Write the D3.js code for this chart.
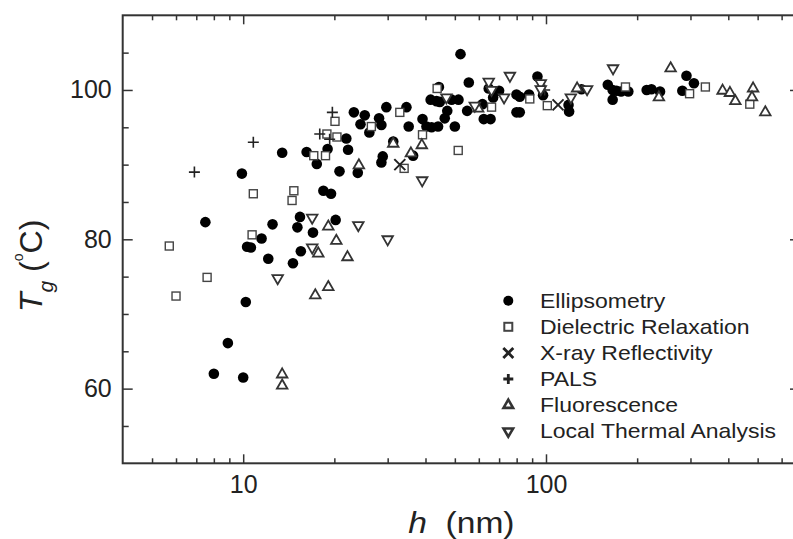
<!DOCTYPE html>
<html>
<head>
<meta charset="utf-8">
<script src="https://cdn.jsdelivr.net/npm/d3@7"></script>
<style>
  body { margin: 0; background: #fff; }
  svg { display: block; font-family: "Liberation Sans", Arial, sans-serif; }
</style>
</head>
<body>
<div id="chart"></div>
<script>
// values: [h (nm), Tg (degC)]
const ellipsometry = [
  [23.2, 97.0], [22.2, 92.0], [19.0, 92.1], [13.45, 91.6], [16.2, 91.7], [17.5, 90.1],
  [9.9, 88.8], [20.8, 89.1], [23.9, 88.9], [18.4, 86.5], [19.5, 86.1], [7.5, 82.3],
  [12.5, 82.0], [15.4, 83.0], [15.1, 81.6], [20.2, 82.6], [17.0, 80.9], [11.5, 80.1],
  [10.3, 79.0], [10.6, 78.9], [12.1, 77.4], [14.6, 76.8], [15.5, 78.4], [10.2, 71.6],
  [8.9, 66.1], [8.0, 62.0], [10.0, 61.5],
  [52.2, 104.8], [55.6, 101.0], [93.7, 101.8], [97.8, 99.3], [64.7, 100.2], [70.0, 99.9],
  [66.9, 99.0], [79.9, 99.4], [81.9, 99.1], [87.9, 99.4], [118.7, 98.0], [119.2, 97.1],
  [79.9, 97.0], [81.9, 97.0], [62.3, 96.1], [65.6, 96.1], [61.7, 98.1], [54.9, 97.2],
  [44.3, 100.4], [41.6, 98.7], [43.5, 98.5], [44.6, 98.4], [48.8, 98.7], [51.4, 98.7],
  [47.2, 97.2], [46.3, 96.2], [39.1, 96.1], [40.3, 95.1], [41.9, 95.0], [44.0, 95.1],
  [50.0, 95.1], [35.2, 95.1], [31.3, 93.1], [29.7, 97.7], [34.6, 97.7], [28.1, 96.2],
  [28.6, 95.3], [25.2, 96.6], [24.4, 95.4], [26.1, 94.3], [36.4, 91.2], [28.9, 91.1],
  [28.6, 90.3], [21.9, 93.5],
  [160, 100.7], [166, 100.0], [171, 99.9], [177, 99.8], [187, 99.8], [166, 98.7],
  [215, 100.0], [223, 100.1], [238, 99.8], [291, 101.9], [308, 100.9], [282, 99.9], [131, 100.1]
];
const dielectric = [
  [20.1, 95.8], [18.9, 94.1], [20.4, 93.7], [17.1, 91.2], [18.7, 91.2], [10.8, 86.1],
  [14.7, 86.5], [14.5, 85.2], [10.7, 80.6], [5.7, 79.1], [7.6, 74.9], [6.0, 72.4],
  [26.5, 95.1], [32.9, 97.0], [39.1, 94.0], [34.0, 89.5], [51.3, 91.9], [43.7, 100.2],
  [66.1, 97.7], [88.4, 98.8], [101, 97.9], [183, 100.4], [298, 99.5], [336, 100.4], [471, 98.1]
];
const xray = [[109.6, 98.0], [32.9, 90.0]];
const pals = [[19.7, 97.0], [10.8, 93.0], [6.9, 89.0], [17.9, 94.1], [19.3, 93.4], [99, 100.0]];
const fluorescence = [
  [24.1, 89.9], [19.1, 81.7], [20.3, 79.8], [22.1, 77.6], [17.7, 78.1], [17.3, 72.5],
  [19.1, 73.6], [13.45, 61.9], [13.45, 60.4], [31.3, 92.8], [38.9, 92.6], [35.8, 91.5],
  [59.7, 97.5], [126.7, 100.2], [236, 99.0], [258, 102.9], [383, 99.9], [405, 99.6],
  [422, 98.5], [483, 100.2], [479, 99.0], [530, 97.0]
];
const localThermal = [
  [16.9, 82.9], [24.0, 81.9], [16.9, 78.9], [13.0, 74.8], [30.0, 80.0], [39.0, 87.9],
  [46.9, 99.0], [58.2, 97.9], [64.7, 101.1], [66.1, 100.0], [72.7, 99.0], [76.0, 101.9],
  [96.1, 100.9], [96.1, 100.1], [120.8, 99.0], [136.7, 100.1], [166.5, 102.9]
];

const seriesNames = ["Ellipsometry", "Dielectric Relaxation", "X-ray Reflectivity",
  "PALS", "Fluorescence", "Local Thermal Analysis"];
const seriesShapes = ["circle", "square", "times", "plus", "up", "down"];
const seriesData = [ellipsometry, dielectric, xray, pals, fluorescence, localThermal];

const xMajor = [10, 100];
const xMajorLabels = ["10", "100"];
const xMinor = [5, 6, 7, 8, 9, 20, 30, 40, 50, 60, 70, 80, 90, 200, 300, 400, 500, 600];
const yMajor = [60, 80, 100];
const yMajorLabels = ["60", "80", "100"];
const yMinor = [55, 65, 70, 75, 85, 90, 95, 105];

const width = 793, height = 539;
const plotL = 122.7, plotR = 800, plotT = 15.3, plotB = 463.3;
const axisColor = "#333";

const svg = d3.select("#chart").append("svg")
  .attr("width", width)
  .attr("height", height);

const x = d3.scaleLog().domain([4, 690]).range([plotL, plotR]);
const y = d3.scaleLinear().domain([50, 110]).range([plotB, plotT]);

// ticks (all pointing inward)
function styleAxis(g) {
  g.select(".domain").remove();
  g.selectAll(".tick line").attr("stroke", axisColor).attr("stroke-width", 1.5);
  g.selectAll(".tick text").attr("fill", "#222").style("font-size", "25px")
    .style("font-family", "'Liberation Sans', Arial, sans-serif");
}

svg.append("g").attr("transform", `translate(0,${plotB})`)
  .call(d3.axisBottom(x).tickValues(xMajor).tickSize(-9).tickPadding(12)
    .tickFormat((d, i) => xMajorLabels[i]))
  .call(styleAxis);
svg.append("g").attr("transform", `translate(0,${plotB})`)
  .call(d3.axisBottom(x).tickValues(xMinor).tickSize(-5).tickFormat(""))
  .call(styleAxis);
svg.append("g").attr("transform", `translate(0,${plotT})`)
  .call(d3.axisTop(x).tickValues(xMajor).tickSize(-9).tickFormat(""))
  .call(styleAxis);
svg.append("g").attr("transform", `translate(0,${plotT})`)
  .call(d3.axisTop(x).tickValues(xMinor).tickSize(-5).tickFormat(""))
  .call(styleAxis);

svg.append("g").attr("transform", `translate(${plotL},0)`)
  .call(d3.axisLeft(y).tickValues(yMajor).tickSize(-10).tickPadding(11)
    .tickFormat((d, i) => yMajorLabels[i]))
  .call(styleAxis);
svg.append("g").attr("transform", `translate(${plotL},0)`)
  .call(d3.axisLeft(y).tickValues(yMinor).tickSize(-6).tickFormat(""))
  .call(styleAxis);
svg.append("g").attr("transform", `translate(${plotR},0)`)
  .call(d3.axisRight(y).tickValues(yMajor).tickSize(-10).tickFormat(""))
  .call(styleAxis);
svg.append("g").attr("transform", `translate(${plotR},0)`)
  .call(d3.axisRight(y).tickValues(yMinor).tickSize(-6).tickFormat(""))
  .call(styleAxis);

// frame
svg.append("rect")
  .attr("x", plotL).attr("y", plotT)
  .attr("width", plotR - plotL).attr("height", plotB - plotT)
  .attr("fill", "none").attr("stroke", axisColor).attr("stroke-width", 2);

// marker drawing
function marker(g, shape, big) {
  const sw = big ? 2.6 : 1.8;
  if (shape === "circle") {
    g.append("circle").attr("r", big ? 5 : 5.3).attr("fill", "#000");
  } else if (shape === "square") {
    const s = 8;
    g.append("rect").attr("x", -s / 2).attr("y", -s / 2).attr("width", s).attr("height", s)
      .attr("fill", "#fff").attr("stroke", "#444").attr("stroke-width", big ? 2 : 1.4);
  } else if (shape === "times") {
    const a = big ? 5 : 5.5;
    g.append("path").attr("d", `M${-a},${-a}L${a},${a}M${-a},${a}L${a},${-a}`)
      .attr("stroke", "#222").attr("stroke-width", big ? 2.8 : 2);
  } else if (shape === "plus") {
    const a = big ? 5 : 5.5;
    g.append("path").attr("d", `M${-a},0L${a},0M0,${-a}L0,${a}`)
      .attr("stroke", "#222").attr("stroke-width", big ? 2.8 : 1.6);
  } else {
    g.append("path").attr("d", d3.symbol(d3.symbolTriangle, big ? 40 : 48)())
      .attr("transform", shape === "down" ? "rotate(180)" : null)
      .attr("fill", "#fff").attr("stroke", "#333").attr("stroke-width", sw);
  }
}

const plot = svg.append("g");
seriesData.forEach((data, si) => {
  plot.append("g").selectAll("g")
    .data(data)
    .join("g")
    .attr("transform", d => `translate(${x(d[0])},${y(d[1])})`)
    .each(function () { marker(d3.select(this), seriesShapes[si], false); });
});

// legend
const legend = svg.append("g");
seriesNames.forEach((name, i) => {
  const row = legend.append("g").attr("transform", `translate(508.3,${300.7 + i * 26.1})`);
  marker(row.append("g"), seriesShapes[i], true);
  row.append("text")
    .attr("transform", "translate(31.7,0) scale(1.15,1)")
    .attr("dy", "0.36em")
    .attr("fill", "#222")
    .style("font-size", "20px")
    .text(name);
});

// axis titles
const xt = svg.append("text")
  .attr("transform", `translate(${(plotL + plotR) / 2},533) scale(1.12,1)`)
  .attr("text-anchor", "middle")
  .attr("fill", "#222")
  .style("font-size", "30px");
xt.append("tspan").style("font-style", "italic").text("h");
xt.append("tspan").text("\u00a0 (nm)");

const yt = svg.append("text")
  .attr("transform", "translate(42,312) rotate(-90)")
  .attr("fill", "#222")
  .style("font-size", "32px");
yt.append("tspan").style("font-style", "italic").text("T");
yt.append("tspan").style("font-style", "italic").style("font-size", "21px").attr("dy", 11).text("g");
yt.append("tspan").attr("dy", -11).text("\u00a0(");
yt.append("tspan").style("font-size", "14px").attr("dy", -19).text("o");
yt.append("tspan").attr("dy", 19).text("C)");
</script>
</body>
</html>
